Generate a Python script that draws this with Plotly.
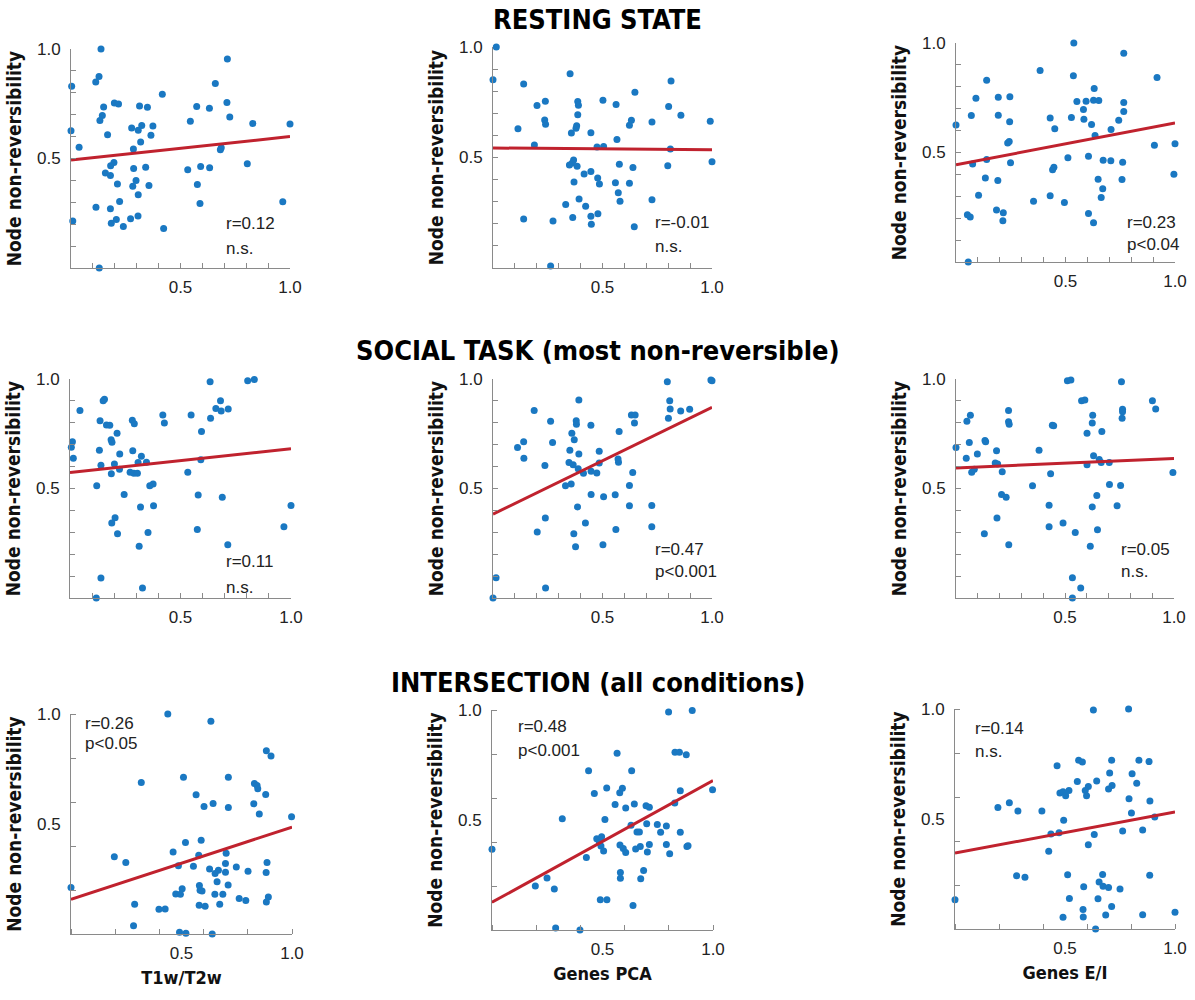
import numpy as np
import plotly.graph_objects as go

# ---------------- data ----------------
row_titles = ["RESTING STATE", "SOCIAL TASK (most non-reversible)", "INTERSECTION (all conditions)"]
x_titles = ["T1w/T2w", "Genes PCA", "Genes E/I"]
y_title = "Node non-reversibility"
tick_values = [0.5, 1.0]
tick_labels = ["0.5", "1.0"]

rest_t1w_x = [0.137,0.714,0.003,0.128,0.113,0.659,0.417,0.198,0.217,0.712,
              0.149,0.313,0.349,0.574,0.632,0.143,0.132,0.545,0.725,0.830,
              1.000,0.000,0.277,0.323,0.374,0.307,0.167,0.365,0.318,0.037,
              0.285,0.682,0.686,0.196,0.181,0.805,0.592,0.633,0.533,0.286,
              0.341,0.157,0.180,0.297,0.212,0.282,0.356,0.577,0.307,0.222,
              0.589,0.967,0.114,0.180,0.008,0.306,0.272,0.207,0.184,0.239,
              0.423,0.129]
rest_t1w_y = [1.000,0.954,0.830,0.875,0.849,0.843,0.793,0.753,0.749,0.756,
              0.735,0.740,0.734,0.738,0.729,0.696,0.673,0.670,0.690,0.660,
              0.657,0.627,0.639,0.651,0.648,0.629,0.609,0.606,0.575,0.551,
              0.543,0.540,0.549,0.482,0.467,0.476,0.464,0.458,0.449,0.454,
              0.460,0.434,0.422,0.400,0.384,0.373,0.377,0.381,0.335,0.304,
              0.295,0.303,0.277,0.271,0.215,0.237,0.225,0.221,0.204,0.189,
              0.180,0.000]

rest_pca_x = [0.015,0.000,0.140,0.352,0.813,0.648,0.239,0.201,0.387,0.390,
              0.502,0.562,0.802,0.858,0.387,0.236,0.240,0.632,0.623,0.726,
              0.992,0.114,0.382,0.379,0.358,0.447,0.566,0.189,0.475,0.505,
              0.810,0.368,0.362,0.349,0.384,0.577,0.639,0.798,1.000,0.416,
              0.447,0.478,0.486,0.370,0.559,0.623,0.572,0.580,0.393,0.423,
              0.332,0.726,0.479,0.364,0.447,0.449,0.140,0.274,0.645,0.263]
rest_pca_y = [1.000,0.852,0.833,0.879,0.846,0.795,0.754,0.735,0.753,0.736,
              0.759,0.740,0.731,0.691,0.694,0.670,0.651,0.668,0.646,0.661,
              0.664,0.630,0.644,0.632,0.611,0.612,0.581,0.557,0.548,0.550,
              0.538,0.489,0.475,0.466,0.460,0.469,0.455,0.463,0.481,0.425,
              0.437,0.407,0.380,0.389,0.386,0.383,0.341,0.302,0.312,0.279,
              0.287,0.309,0.246,0.229,0.234,0.198,0.222,0.213,0.187,0.009]

rest_ei_x = [0.538,0.766,0.384,0.536,0.918,0.140,0.631,0.091,0.193,0.246,
             0.552,0.594,0.628,0.652,0.766,0.582,0.766,0.070,0.193,0.527,
             0.584,0.430,0.743,0.245,0.000,0.619,0.451,0.708,0.635,0.243,
             0.236,0.906,1.000,0.140,0.076,0.249,0.511,0.605,0.672,0.707,
             0.761,0.447,0.441,0.995,0.134,0.191,0.649,0.758,0.670,0.103,
             0.430,0.663,0.354,0.495,0.185,0.216,0.052,0.065,0.214,0.605,
             0.628,0.056]
rest_ei_y = [1.000,0.953,0.875,0.850,0.843,0.830,0.792,0.748,0.752,0.755,
             0.733,0.734,0.739,0.737,0.728,0.696,0.687,0.669,0.670,0.660,
             0.652,0.657,0.647,0.640,0.626,0.628,0.608,0.605,0.578,0.550,
             0.543,0.533,0.540,0.468,0.447,0.453,0.476,0.483,0.465,0.462,
             0.456,0.433,0.421,0.401,0.383,0.372,0.378,0.377,0.334,0.305,
             0.302,0.295,0.277,0.272,0.237,0.225,0.216,0.205,0.188,0.222,
             0.179,0.000]

social_t1w_x = [0.804,0.834,0.634,0.156,0.150,0.681,0.045,0.660,0.684,0.716,
                0.420,0.548,0.636,0.136,0.282,0.427,0.291,0.165,0.180,0.595,
                0.213,0.186,0.190,0.011,0.006,0.133,0.284,0.225,0.323,0.015,
                0.592,0.308,0.346,0.201,0.140,0.224,0.272,0.289,0.305,0.187,
                0.533,0.121,0.376,0.361,0.245,0.580,0.689,1.000,0.319,0.378,
                0.204,0.189,0.215,0.353,0.576,0.968,0.313,0.714,0.140,0.328,
                0.119]
social_t1w_y = [0.992,0.998,0.988,0.907,0.901,0.901,0.856,0.865,0.854,0.863,
                0.836,0.836,0.821,0.809,0.812,0.799,0.796,0.790,0.789,0.760,
                0.752,0.723,0.711,0.714,0.688,0.675,0.672,0.658,0.647,0.638,
                0.631,0.619,0.620,0.612,0.606,0.588,0.574,0.570,0.570,0.567,
                0.574,0.512,0.520,0.512,0.473,0.470,0.460,0.422,0.415,0.421,
                0.366,0.342,0.293,0.299,0.313,0.325,0.236,0.243,0.091,0.046,
                0.000]

social_pca_x = [0.796,0.995,1.000,0.392,0.807,0.188,0.809,0.857,0.898,0.632,
                0.649,0.263,0.380,0.381,0.447,0.646,0.801,0.576,0.360,0.371,
                0.140,0.272,0.112,0.351,0.485,0.392,0.141,0.571,0.573,0.347,
                0.366,0.237,0.485,0.389,0.413,0.448,0.474,0.638,0.331,0.357,
                0.623,0.448,0.505,0.558,0.386,0.623,0.725,0.239,0.422,0.202,
                0.369,0.561,0.725,0.377,0.502,0.014,0.240,0.000]
social_pca_y = [0.988,0.995,0.992,0.904,0.901,0.856,0.863,0.854,0.862,0.836,
                0.836,0.807,0.809,0.793,0.789,0.799,0.821,0.760,0.752,0.723,
                0.714,0.710,0.687,0.675,0.670,0.657,0.638,0.635,0.620,0.619,
                0.609,0.605,0.616,0.590,0.570,0.579,0.571,0.573,0.512,0.520,
                0.514,0.473,0.462,0.471,0.416,0.421,0.422,0.365,0.342,0.301,
                0.293,0.313,0.325,0.234,0.243,0.093,0.046,0.000]

social_ei_x = [0.511,0.527,0.759,0.576,0.591,0.901,0.241,0.066,0.627,0.764,
               0.764,0.916,0.762,0.050,0.241,0.244,0.625,0.442,0.448,0.601,
               0.669,0.133,0.136,0.061,0.000,0.186,0.381,0.098,0.631,0.047,
               0.657,0.666,0.180,0.191,0.703,0.601,0.084,0.072,0.212,0.434,
               0.995,0.351,0.704,0.755,0.209,0.230,0.646,0.427,0.625,0.739,
               0.188,0.491,0.427,0.649,0.130,0.547,0.242,0.616,0.534,0.572,
               0.534]
social_ei_y = [0.992,0.995,0.988,0.901,0.904,0.901,0.856,0.834,0.834,0.862,
               0.851,0.863,0.821,0.807,0.805,0.793,0.799,0.789,0.787,0.752,
               0.760,0.719,0.714,0.710,0.687,0.672,0.675,0.658,0.649,0.638,
               0.632,0.619,0.617,0.612,0.619,0.609,0.588,0.574,0.576,0.567,
               0.573,0.512,0.518,0.514,0.473,0.460,0.468,0.424,0.416,0.421,
               0.365,0.342,0.325,0.312,0.293,0.299,0.243,0.236,0.093,0.046,
               0.000]

inter_t1w_x = [0.438,0.633,0.884,0.905,0.318,0.509,0.712,0.566,0.643,0.602,
               0.712,0.830,0.842,0.845,0.881,0.827,0.852,0.998,0.589,0.518,
               0.462,0.578,0.196,0.248,0.486,0.702,0.699,0.748,0.801,0.887,
               0.554,0.627,0.667,0.652,0.699,0.661,0.711,0.581,0.584,0.593,
               0.503,0.474,0.495,0.651,0.687,0.883,0.000,0.288,0.580,0.607,
               0.673,0.761,0.791,0.893,0.884,0.398,0.426,0.283,0.491,0.520,
               0.639]
inter_t1w_y = [1.000,0.967,0.833,0.809,0.689,0.713,0.713,0.633,0.593,0.580,
               0.575,0.684,0.675,0.660,0.634,0.592,0.545,0.533,0.426,0.416,
               0.373,0.358,0.351,0.325,0.310,0.367,0.320,0.305,0.285,0.325,
               0.308,0.296,0.290,0.275,0.281,0.238,0.223,0.220,0.199,0.196,
               0.206,0.182,0.181,0.181,0.181,0.279,0.211,0.135,0.131,0.126,
               0.135,0.161,0.152,0.168,0.146,0.112,0.114,0.038,0.008,0.003,
               0.000]

inter_pca_x = [0.799,0.906,0.566,0.828,0.848,0.879,0.437,0.632,0.463,0.519,
               0.578,0.590,0.852,0.998,0.557,0.605,0.644,0.697,0.712,0.827,
               0.318,0.511,0.629,0.700,0.748,0.789,0.656,0.667,0.763,0.852,
               0.474,0.496,0.486,0.493,0.505,0.000,0.579,0.594,0.605,0.650,
               0.671,0.712,0.703,0.789,0.804,0.882,0.887,0.427,0.581,0.581,
               0.686,0.673,0.196,0.249,0.282,0.490,0.520,0.638,0.288,0.398]
inter_pca_y = [0.991,0.998,0.803,0.808,0.808,0.797,0.724,0.724,0.621,0.645,
               0.624,0.644,0.633,0.638,0.570,0.555,0.573,0.565,0.558,0.577,
               0.506,0.502,0.476,0.483,0.479,0.473,0.445,0.445,0.444,0.444,
               0.415,0.424,0.398,0.382,0.359,0.367,0.386,0.370,0.352,0.368,
               0.379,0.389,0.355,0.389,0.347,0.379,0.383,0.330,0.261,0.235,
               0.270,0.233,0.200,0.236,0.186,0.138,0.138,0.111,0.009,0.000]

inter_ei_x = [0.629,0.789,0.562,0.579,0.712,0.836,0.882,0.464,0.703,0.805,
              0.556,0.644,0.826,0.606,0.518,0.714,0.698,0.477,0.491,0.503,
              0.592,0.598,0.791,0.886,0.195,0.247,0.286,0.395,0.802,0.908,
              0.494,0.436,0.473,0.633,0.762,0.853,0.606,0.426,0.280,0.318,
              0.512,0.671,0.885,0.655,0.673,0.698,0.750,0.585,0.000,0.520,
              0.650,0.712,0.582,0.685,0.853,1.000,0.491,0.583,0.639]
inter_ei_y = [0.995,1.000,0.767,0.759,0.767,0.767,0.761,0.742,0.709,0.706,
              0.670,0.673,0.662,0.648,0.630,0.652,0.636,0.618,0.624,0.606,
              0.630,0.606,0.592,0.582,0.552,0.574,0.536,0.536,0.527,0.509,
              0.494,0.432,0.438,0.430,0.445,0.450,0.383,0.353,0.242,0.235,
              0.247,0.248,0.244,0.214,0.194,0.189,0.182,0.192,0.133,0.139,
              0.138,0.102,0.089,0.064,0.065,0.076,0.053,0.055,0.000]

fit_intercept = [0.493, 0.543, 0.444, 0.573, 0.383, 0.594, 0.158, 0.126, 0.345]
fit_slope = [0.107, -0.008, 0.191, 0.108, 0.488, 0.043, 0.328, 0.553, 0.187]
r_labels = ["r=0.12", "r=-0.01", "r=0.23", "r=0.11", "r=0.47", "r=0.05", "r=0.26", "r=0.48", "r=0.14"]
p_labels = ["n.s.", "n.s.", "p<0.04", "n.s.", "p<0.001", "n.s.", "p<0.05", "p<0.001", "n.s."]

panels_x = [rest_t1w_x, rest_pca_x, rest_ei_x, social_t1w_x, social_pca_x, social_ei_x,
            inter_t1w_x, inter_pca_x, inter_ei_x]
panels_y = [rest_t1w_y, rest_pca_y, rest_ei_y, social_t1w_y, social_pca_y, social_ei_y,
            inter_t1w_y, inter_pca_y, inter_ei_y]

# ---------------- layout / style ----------------
W, H = 1195, 1000
boxes = [(71, 49, 290, 268), (493, 47, 712, 268), (956, 43, 1175, 262),
         (70, 379, 291, 598), (493, 379, 712, 598), (956, 379, 1174, 598),
         (71, 714, 292, 934), (492, 710, 713, 930), (955, 709, 1175, 929)]
# (x of text left edge, y of r line, y of p line) in data units
stat_pos = [(0.70, 0.205, 0.09), (0.73, 0.207, 0.098), (0.772, 0.179, 0.078),
            (0.695, 0.167, 0.046), (0.73, 0.22, 0.12), (0.748, 0.22, 0.12),
            (0.054, 0.959, 0.868), (0.11, 0.924, 0.818), (0.08, 0.91, 0.808)]
title_y_px = [19, 350, 682]

COND = "DejaVu Sans Condensed, Liberation Sans Narrow, Arial Narrow, sans-serif"
REG = "Liberation Sans, Arial, Helvetica, sans-serif"
DOT = "#1a78c2"
LINE = "#c0222e"
AX = "#8a8a8a"

fig = go.Figure()
layout = dict(width=W, height=H, margin=dict(l=0, r=0, t=0, b=0, autoexpand=False),
              plot_bgcolor="white", paper_bgcolor="white", showlegend=False,
              template="none")
annotations = []

for i in range(9):
    n = i + 1
    r, c = divmod(i, 3)
    xa = "x" if n == 1 else f"x{n}"
    ya = "y" if n == 1 else f"y{n}"
    l, t, rr, b = boxes[i]
    step = 0.1 if r < 2 else 0.2
    major_ticks = "inside" if r < 2 else ""
    common = dict(range=[0, 1], showline=True, linecolor=AX, linewidth=1,
                  showgrid=False, zeroline=False, automargin=False,
                  tickvals=tick_values, ticktext=tick_labels,
                  ticks=major_ticks, ticklen=5, tickcolor=AX, tickwidth=1,
                  tickfont=dict(family=REG, size=17, color="#222"),
                  minor=dict(ticks="inside", tick0=0, dtick=step, ticklen=5,
                             tickcolor=AX, tickwidth=1, showgrid=False))
    xaxis = dict(common, domain=[l / W, rr / W], anchor=ya, ticklabelstandoff=4)
    if r == 2:
        xaxis["title"] = dict(text=f"<b>{x_titles[c]}</b>", standoff=8,
                              font=dict(family=COND, size=18, color="#111"))
    yaxis = dict(common, domain=[1 - b / H, 1 - t / H], anchor=xa, ticklabelstandoff=6,
                 title=dict(text=f"<b>{y_title}</b>", standoff=10,
                            font=dict(family=COND, size=19, color="#111")))
    layout["xaxis" if n == 1 else f"xaxis{n}"] = xaxis
    layout["yaxis" if n == 1 else f"yaxis{n}"] = yaxis

    fig.add_trace(go.Scatter(x=panels_x[i], y=panels_y[i], mode="markers",
                             marker=dict(size=7, color=DOT), cliponaxis=False,
                             xaxis=xa, yaxis=ya, hoverinfo="x+y"))
    lx = np.array([0.0, 1.0])
    fig.add_trace(go.Scatter(x=lx, y=fit_intercept[i] + fit_slope[i] * lx, mode="lines",
                             line=dict(color=LINE, width=3), cliponaxis=False,
                             xaxis=xa, yaxis=ya, hoverinfo="skip"))
    sx, sy1, sy2 = stat_pos[i]
    for txt, yy in ((r_labels[i], sy1), (p_labels[i], sy2)):
        annotations.append(dict(text=txt, x=sx, y=yy, xref=xa, yref=ya,
                                xanchor="left", yanchor="middle", showarrow=False,
                                font=dict(family=REG, size=17, color="#222")))

for k in range(3):
    annotations.append(dict(text=f"<b>{row_titles[k]}</b>", x=0.5, y=1 - title_y_px[k] / H,
                            xref="paper", yref="paper", xanchor="center", yanchor="middle",
                            showarrow=False, font=dict(family=COND, size=27, color="#000")))

layout["annotations"] = annotations
fig.update_layout(**layout)
fig.write_html("out.html", config={"displayModeBar": False},
               post_script="document.body.style.margin='0';")
